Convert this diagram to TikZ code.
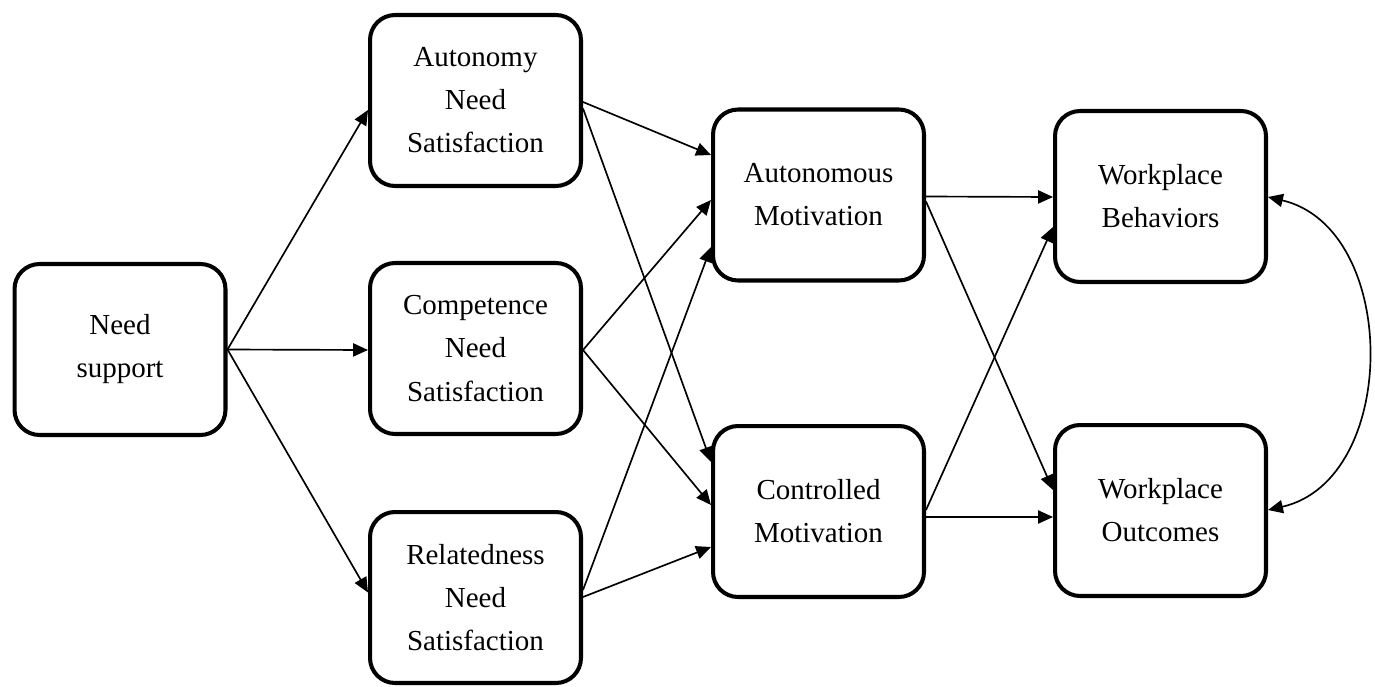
\documentclass[tikz,border=0pt]{standalone}
\usepackage{fontspec}
\setmainfont{Liberation Serif}
\usetikzlibrary{arrows.meta,calc}
\tikzset{
  box/.style={draw, line width=2.3pt, rounded corners=0.5cm, minimum width=4.22cm,
    minimum height=3.42cm, inner sep=0pt, align=center,
    font=\fontsize{16.5}{24.5}\selectfont},
  arr/.style={line width=0.95pt, -{Triangle[length=8.5pt,width=7.5pt]}},
  darr/.style={line width=0.95pt, {Triangle[length=8.5pt,width=7.5pt]}-{Triangle[length=8.5pt,width=7.5pt]}}
}
\begin{document}
\begin{tikzpicture}[x=0.02cm,y=-0.02cm]
\useasboundingbox (0,0) rectangle (1375,686);
\node[box] (NS) at (120,349.5) {Need\\support};
\node[box] (AN) at (475.5,100.5) {Autonomy\\Need\\Satisfaction};
\node[box] (CN) at (475.5,348.5) {Competence\\Need\\Satisfaction};
\node[box] (RN) at (475.5,597.5) {Relatedness\\Need\\Satisfaction};
\node[box] (AM) at (818.5,195) {Autonomous\\Motivation};
\node[box] (CM) at (818.5,511.5) {Controlled\\Motivation};
\node[box] (WB) at (1160.5,196.5) {Workplace\\Behaviors};
\node[box] (WO) at (1160.5,510.5) {Workplace\\Outcomes};

\draw[arr] (NS.east) -- ($(AN.west)+(0,9.5)$);
\draw[arr] (NS.east) -- ($(CN.west)+(0,1.5)$);
\draw[arr] (NS.east) -- ($(RN.west)+(0,-5)$);

\draw[arr] ($(AN.east)+(0,1.5)$) -- ($(AM.west)+(0,-40)$);
\draw[arr] ($(AN.east)+(0,8)$) -- ($(CM.west)+(0,-49.5)$);

\draw[arr] ($(CN.east)+(0,1.5)$) -- ($(AM.west)+(0,5)$);
\draw[arr] ($(CN.east)+(0,1.5)$) -- ($(CM.west)+(0,-6.5)$);

\draw[arr] ($(RN.east)+(0,-7.5)$) -- ($(AM.west)+(0,52)$);
\draw[arr] ($(RN.east)+(0,-0.5)$) -- ($(CM.west)+(0,35.5)$);

\draw[arr] ($(AM.east)+(0,1.5)$) -- ($(WB.west)+(0,0.5)$);
\draw[arr] ($(AM.east)+(0,6.5)$) -- ($(WO.west)+(0,-20.5)$);

\draw[arr] ($(CM.east)+(0,5.5)$) -- ($(WO.west)+(0,6.5)$);
\draw[arr] ($(CM.east)+(0,-1.5)$) -- ($(WB.west)+(0,30.5)$);

\draw[darr] ($(WB.east)+(0,0.5)$) .. controls (1400,228) and (1400,480) .. ($(WO.east)+(0,-0.5)$);
\end{tikzpicture}
\end{document}
